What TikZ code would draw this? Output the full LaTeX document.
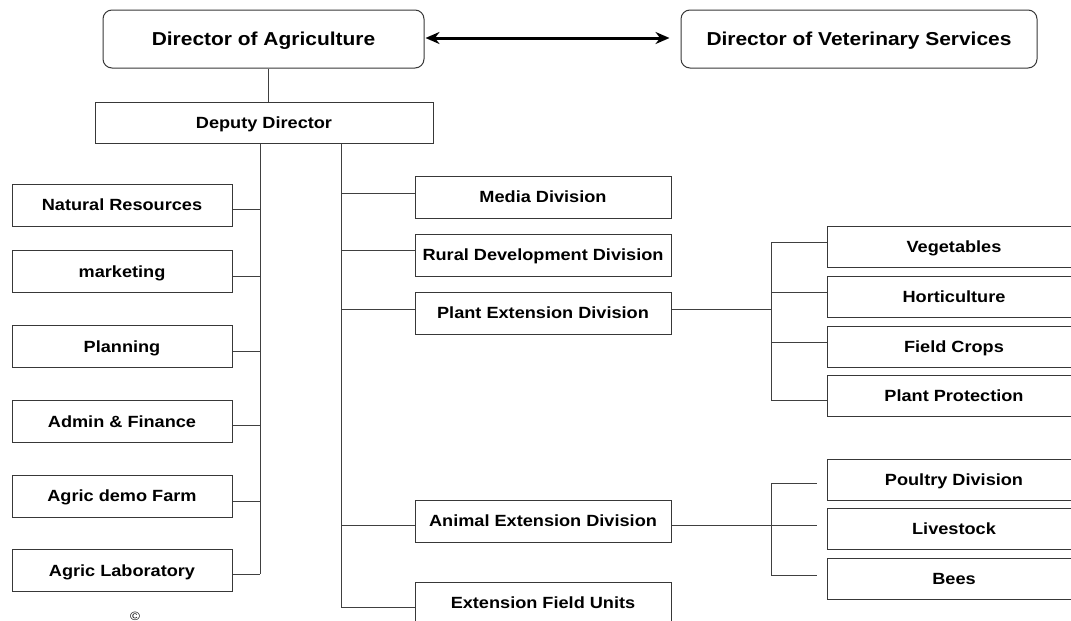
\documentclass[tikz,border=0pt]{standalone}
\usepackage{fontspec}
\setmainfont{Liberation Sans}[FakeStretch=1.12]
\usetikzlibrary{arrows.meta}
\begin{document}
\begin{tikzpicture}[x=1pt,y=-1pt,
  box/.style={draw=black!78,line width=1pt,fill=white,inner sep=0pt,
    text height=11.6pt,text depth=0pt,
    font=\fontsize{16.2}{18}\selectfont\bfseries},
  topbox/.style={box,rounded corners=9pt,minimum width=#1,minimum height=58pt,
    text height=13.4pt,
    font=\fontsize{18.7}{20}\selectfont\bfseries},
  leftbox/.style={box,minimum width=220pt,minimum height=42pt},
  midbox/.style={box,minimum width=256pt,minimum height=42pt},
  subbox/.style={box,minimum width=254pt,minimum height=41pt},
  conn/.style={draw=black!75,line width=1pt}
]
\clip (0,0) rectangle (1071,621);
\useasboundingbox (0,0) rectangle (1071,621);
\fill[white] (0,0) rectangle (1071,621);

% top level
\node[topbox=321pt] (dirA) at (263.5,39) {Director of Agriculture};
\node[topbox=356pt] (dirV) at (859,39) {Director of Veterinary Services};
\draw[draw=black,line width=3pt,{Stealth[length=14pt,width=12pt]}-{Stealth[length=14pt,width=12pt]},shorten <=1pt,shorten >=11pt]
  ([yshift=1pt]dirA.east) -- ([yshift=1pt]dirV.west);

\node[box,minimum width=338pt,minimum height=41pt] (dep) at (264,122.5) {Deputy Director};
\draw[conn] ([xshift=4.5pt]dirA.south) -- ([xshift=4.5pt]dirA.south |- dep.north);

% trunks
\coordinate (lt) at (260,574);
\coordinate (rt) at (341,607);
\draw[conn] (dep.south -| lt) -- (lt);
\draw[conn] (dep.south -| rt) -- (rt);

% left column
\node[leftbox] (nat) at (122,205) {Natural Resources};
\node[leftbox] (mkt) at (122,271.5) {marketing};
\node[leftbox] (pln) at (122,346.5) {Planning};
\node[leftbox] (adm) at (122,421.5) {Admin \& Finance};
\node[leftbox] (dem) at (122,496) {Agric demo Farm};
\node[leftbox] (lab) at (122,570.5) {Agric Laboratory};
\foreach \n/\o in {nat/4,mkt/4.5,pln/4.5,adm/3.5,dem/5,lab/3.5}
  \draw[conn] ([yshift=-\o pt]\n.east) -- ([yshift=-\o pt]\n.east -| lt);

% middle column
\node[midbox] (med) at (543,197) {Media Division};
\node[midbox] (rur) at (543,255) {Rural Development Division};
\node[midbox] (pla) at (543,313) {Plant Extension Division};
\node[midbox] (ani) at (543,521) {Animal Extension Division};
\node[midbox] (efu) at (543,603) {Extension Field Units};
\foreach \n/\o in {med/4,rur/5,pla/4,ani/-4,efu/-4}
  \draw[conn] ([yshift=\o pt]\n.west -| rt) -- ([yshift=\o pt]\n.west);

% plant sub-units
\node[subbox] (veg) at (954,246.5) {Vegetables};
\node[subbox] (hor) at (954,296.5) {Horticulture};
\node[subbox] (fld) at (954,346.5) {Field Crops};
\node[subbox] (pro) at (954,395.5) {Plant Protection};
\coordinate (pt1) at (771,242);
\coordinate (pt2) at (771,400);
\draw[conn] ([yshift=4pt]pla.east) -- ([yshift=4pt]pla.east -| pt1);
\draw[conn] (pt1) -- (pt2);
\draw[conn] (pt1) -- (pt1 -| veg.west);
\draw[conn] (771,292) -- (771,292 -| hor.west);
\draw[conn] (771,342) -- (771,342 -| fld.west);
\draw[conn] (pt2) -- (pt2 -| pro.west);

% animal sub-units
\node[subbox] (pou) at (954,479.5) {Poultry Division};
\node[subbox] (liv) at (954,529) {Livestock};
\node[subbox] (bee) at (954,579) {Bees};
\coordinate (at1) at (771,483);
\coordinate (at2) at (771,575);
\coordinate (ae) at (817,525);
\draw[conn] ([yshift=-4pt]ani.east) -- (ae);
\draw[conn] (at1) -- (at2);
\draw[conn] (at1) -- (817,483);
\draw[conn] (at2) -- (817,575);

\node[font=\fontsize{12}{13}\selectfont] (copy) at (135,616) {©};
\end{tikzpicture}
\end{document}
